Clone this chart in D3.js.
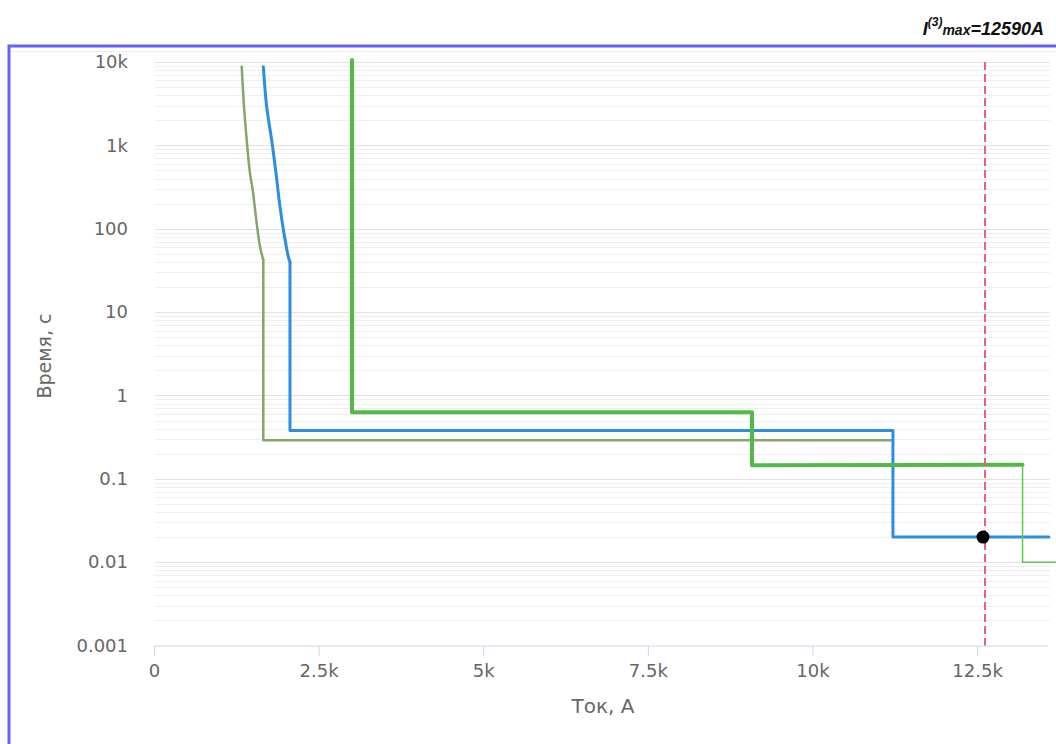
<!DOCTYPE html>
<html>
<head>
  <meta charset="utf-8">
  <title>Время-токовые характеристики</title>
  <style>
    body { margin: 0; background: #fff; }
    svg { display: block; font-family: "DejaVu Sans", Verdana, sans-serif; }
  </style>
  <script src="https://d3js.org/d3.v7.min.js"></script>
</head>
<body>
  <div id="chart"></div>

  <script>
    // Data: [current A, time s]; curve part and step part of each characteristic
    const oliveCurve = [
      [1332, 8790], [1367, 2910], [1408, 1158], [1458, 462], [1499, 291],
      [1560, 116], [1610, 61], [1660, 42]
    ];
    const oliveSteps = [[1660, 42], [1660, 0.29], [11192, 0.29]];
    const blueCurve = [
      [1660, 8790], [1711, 2910], [1787, 1158], [1853, 462], [1913, 184],
      [1974, 88], [2040, 46], [2065, 40]
    ];
    const blueSteps = [[2065, 40], [2065, 0.38], [11222, 0.38], [11222, 0.02], [13591, 0.02]];
    const greenSteps = [
      [3007, 10600], [3007, 0.63], [9081, 0.63], [9081, 0.145], [13190, 0.147]
    ];
    const greenTail = [[13190, 0.147], [13190, 0.01], [13700, 0.01]];
    const iMax = 12590;
    const markerPoint = [12590, 0.02];

    const xTicks = [0, 2500, 5000, 7500, 10000, 12500];
    const xTickLabels = ["0", "2.5k", "5k", "7.5k", "10k", "12.5k"];
    const yTicks = [0.001, 0.01, 0.1, 1, 10, 100, 1000, 10000];
    const yTickLabels = ["0.001", "0.01", "0.1", "1", "10", "100", "1k", "10k"];

    const W = 1056, H = 744;
    const plot = { left: 154, right: 1050, top: 62, bottom: 645.5 };

    const x = d3.scaleLinear().domain([0, 13607]).range([plot.left, plot.right]);
    const y = d3.scaleLog().domain([0.001, 10000]).range([plot.bottom, plot.top]);

    const svg = d3.select("#chart").append("svg")
      .attr("width", W)
      .attr("height", H);

    // frame
    svg.append("line").attr("x1", 10).attr("x2", W).attr("y1", 51.5).attr("y2", 51.5)
      .attr("stroke", "#ececec").attr("stroke-width", 1);
    svg.append("path")
      .attr("d", `M${W},46 L9,46 L9,${H}`)
      .attr("fill", "none")
      .attr("stroke", "#6262f6")
      .attr("stroke-width", 3);

    // title
    const title = svg.append("text")
      .attr("x", 1044).attr("y", 35)
      .attr("text-anchor", "end")
      .style("font-family", "'Liberation Sans', Arial, sans-serif")
      .style("font-weight", "bold")
      .style("font-style", "italic")
      .style("font-size", "18px")
      .attr("fill", "#111");
    title.append("tspan").text("I");
    title.append("tspan").attr("dy", -9).style("font-size", "12px").text("(3)");
    title.append("tspan").attr("dy", 9).style("font-size", "14px").text("max");
    title.append("tspan").text("=12590A");

    // minor and major grid lines
    const minor = [];
    yTicks.slice(0, -1).forEach(d => {
      for (let k = 2; k <= 9; k++) minor.push(d * k);
    });
    svg.append("g").selectAll("line").data(minor).join("line")
      .attr("x1", plot.left + 1).attr("x2", plot.right)
      .attr("y1", d => Math.round(y(d)) + 0.5).attr("y2", d => Math.round(y(d)) + 0.5)
      .attr("stroke", "#efefef");
    svg.append("g").selectAll("line").data(yTicks.slice(1)).join("line")
      .attr("x1", plot.left + 1).attr("x2", plot.right)
      .attr("y1", d => Math.round(y(d)) + 0.5).attr("y2", d => Math.round(y(d)) + 0.5)
      .attr("stroke", "#e2e2e2");

    // y axis labels
    svg.append("g").selectAll("text").data(yTicks).join("text")
      .attr("x", 128)
      .attr("y", d => y(d))
      .attr("dy", "0.35em")
      .attr("text-anchor", "end")
      .attr("fill", "#666")
      .style("font-size", "18px")
      .text((d, i) => yTickLabels[i]);

    // x axis
    const xAxis = svg.append("g")
      .attr("transform", `translate(0,${plot.bottom + 0.5})`)
      .call(d3.axisBottom(x).tickValues(xTicks).tickFormat((d, i) => xTickLabels[i])
        .tickSizeInner(10).tickSizeOuter(0).tickPadding(8));
    xAxis.select(".domain").attr("stroke", "#ccd6eb").attr("d", `M${plot.left},0H${plot.right - 2}`);
    xAxis.selectAll(".tick line").attr("stroke", "#ccd6eb");
    xAxis.selectAll(".tick text")
      .attr("fill", "#666")
      .style("font-size", "18px")
      .style("font-family", "'DejaVu Sans', Verdana, sans-serif");

    // axis titles
    svg.append("text")
      .attr("x", 603).attr("y", 713)
      .attr("text-anchor", "middle")
      .attr("fill", "#666")
      .style("font-size", "20px")
      .text("Ток, А");
    svg.append("text")
      .attr("transform", "translate(51,356) rotate(-90)")
      .attr("text-anchor", "middle")
      .attr("fill", "#666")
      .style("font-size", "19px")
      .text("Время, с");

    const smooth = d3.line()
      .x(d => x(d[0]))
      .y(d => y(d[1]))
      .curve(d3.curveCatmullRom.alpha(0.5));
    const line = d3.line()
      .x(d => x(d[0]))
      .y(d => y(d[1]));

    const series = [
      { pts: oliveCurve, gen: smooth, color: "#88a46c", width: 2.5 },
      { pts: oliveSteps, gen: line, color: "#88a46c", width: 2.5 },
      { pts: blueCurve, gen: smooth, color: "#2d8de3", width: 3 },
      { pts: blueSteps, gen: line, color: "#2d8de3", width: 3 },
      { pts: greenTail, gen: line, color: "#62c552", width: 1.5 },
      { pts: greenSteps, gen: line, color: "#52b944", width: 4 }
    ];
    series.forEach(s => {
      svg.append("path")
        .datum(s.pts)
        .attr("d", s.gen)
        .attr("fill", "none")
        .attr("stroke", s.color)
        .attr("stroke-width", s.width)
        .attr("stroke-linejoin", "round")
        .attr("stroke-linecap", "round");
    });

    // Imax marker line
    svg.append("line")
      .attr("x1", x(iMax) + 2).attr("x2", x(iMax) + 2)
      .attr("y1", plot.top).attr("y2", plot.bottom)
      .attr("stroke", "#e2608c")
      .attr("stroke-width", 2)
      .attr("stroke-dasharray", "8,4");

    svg.append("circle")
      .attr("cx", x(markerPoint[0]))
      .attr("cy", y(markerPoint[1]))
      .attr("r", 6.5)
      .attr("fill", "#000");
  </script>
</body>
</html>
